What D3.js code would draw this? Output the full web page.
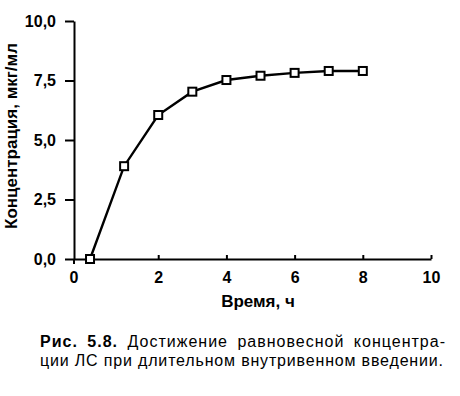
<!DOCTYPE html>
<html>
<head>
<meta charset="utf-8">
<script src="https://cdn.jsdelivr.net/npm/d3@7"></script>
<style>
  body { margin: 0; background: #fff; }
  text { font-family: "Liberation Sans", Arial, sans-serif; fill: #000; }
</style>
</head>
<body>
<div id="chart"></div>
<script>
// Data
var times = [0, 1, 2, 3, 4, 5, 6, 7, 8];
var conc = [0, 3.9, 6.05, 7.03, 7.52, 7.7, 7.82, 7.9, 7.9];
var xTicks = [0, 2, 4, 6, 8, 10];
var yTicks = [0, 2.5, 5, 7.5, 10];
var xTitle = "Время, ч";
var yTitle = "Концентрация, мкг/мл";
var captionBold = "Рис. 5.8.";
var captionLine1 = " Достижение равновесной концентра-";
var captionLine2 = "ции ЛС при длительном внутривенном введении.";

var svgWidth = 460;
var svgHeight = 396;

var svg = d3.select("#chart")
  .append("svg")
  .attr("width", svgWidth)
  .attr("height", svgHeight);

// the vertical axis sits a little left of t = 0 in the original
var xScale = d3.scaleLinear()
  .domain([-0.47, 10])
  .range([74, 431]);

var yScale = d3.scaleLinear()
  .domain([0, 10])
  .range([259, 21]);

var fmt = function(d) { return d3.format(".1f")(d).replace(".", ","); };

// x axis (ticks point up, "0" sits under the axis corner)
var xAxis = svg.append("g")
  .attr("transform", "translate(0," + yScale(0) + ")")
  .call(d3.axisBottom(xScale)
    .tickValues(xTicks.slice(1))
    .tickSizeInner(-4)
    .tickSizeOuter(0)
    .tickPadding(13));

xAxis.append("text")
  .attr("x", xScale.range()[0])
  .attr("y", 13)
  .attr("dy", "0.71em")
  .attr("text-anchor", "middle")
  .text(xTicks[0]);

// y axis
var yAxis = svg.append("g")
  .attr("transform", "translate(" + xScale.range()[0] + ",0)")
  .call(d3.axisLeft(yScale)
    .tickValues(yTicks)
    .tickFormat(fmt)
    .tickSize(9)
    .tickPadding(9)
    .tickSizeOuter(0));

yAxis.append("line")
  .attr("y1", yScale(0))
  .attr("y2", yScale(0) + 5)
  .attr("stroke", "#000")
  .attr("stroke-width", 2);

svg.selectAll(".domain, .tick line")
  .attr("stroke", "#000")
  .attr("stroke-width", 2);

svg.selectAll(".tick text, g > text")
  .style("font-size", "16px")
  .style("font-weight", "bold")
  .attr("fill", "#000");

// axis titles
svg.append("text")
  .attr("x", 258)
  .attr("y", 307)
  .attr("text-anchor", "middle")
  .style("font-size", "17px")
  .style("font-weight", "bold")
  .text(xTitle);

svg.append("text")
  .attr("transform", "translate(17,136) rotate(-90)")
  .attr("text-anchor", "middle")
  .style("font-size", "17px")
  .style("font-weight", "bold")
  .text(yTitle);

// line + square markers
var points = times.map(function(t, i) { return { t: t, c: conc[i] }; });

var line = d3.line()
  .x(function(d) { return xScale(d.t); })
  .y(function(d) { return yScale(d.c); });

svg.append("path")
  .datum(points)
  .attr("d", line)
  .attr("fill", "none")
  .attr("stroke", "#000")
  .attr("stroke-width", 2.4);

svg.selectAll(".marker")
  .data(points)
  .enter()
  .append("rect")
  .attr("class", "marker")
  .attr("x", function(d) { return xScale(d.t) - 4; })
  .attr("y", function(d) { return yScale(d.c) - 4; })
  .attr("width", 8)
  .attr("height", 8)
  .attr("fill", "#fff")
  .attr("stroke", "#000")
  .attr("stroke-width", 2);

// caption
var cap1 = svg.append("text")
  .attr("x", 40)
  .attr("y", 347)
  .attr("textLength", 405)
  .attr("lengthAdjust", "spacing")
  .style("font-size", "16px")
  .style("word-spacing", "4px");
cap1.append("tspan").style("font-weight", "bold").text(captionBold);
cap1.append("tspan").text(captionLine1);

svg.append("text")
  .attr("x", 40)
  .attr("y", 365.5)
  .attr("textLength", 403)
  .attr("lengthAdjust", "spacing")
  .style("font-size", "16px")
  .text(captionLine2);
</script>
</body>
</html>
